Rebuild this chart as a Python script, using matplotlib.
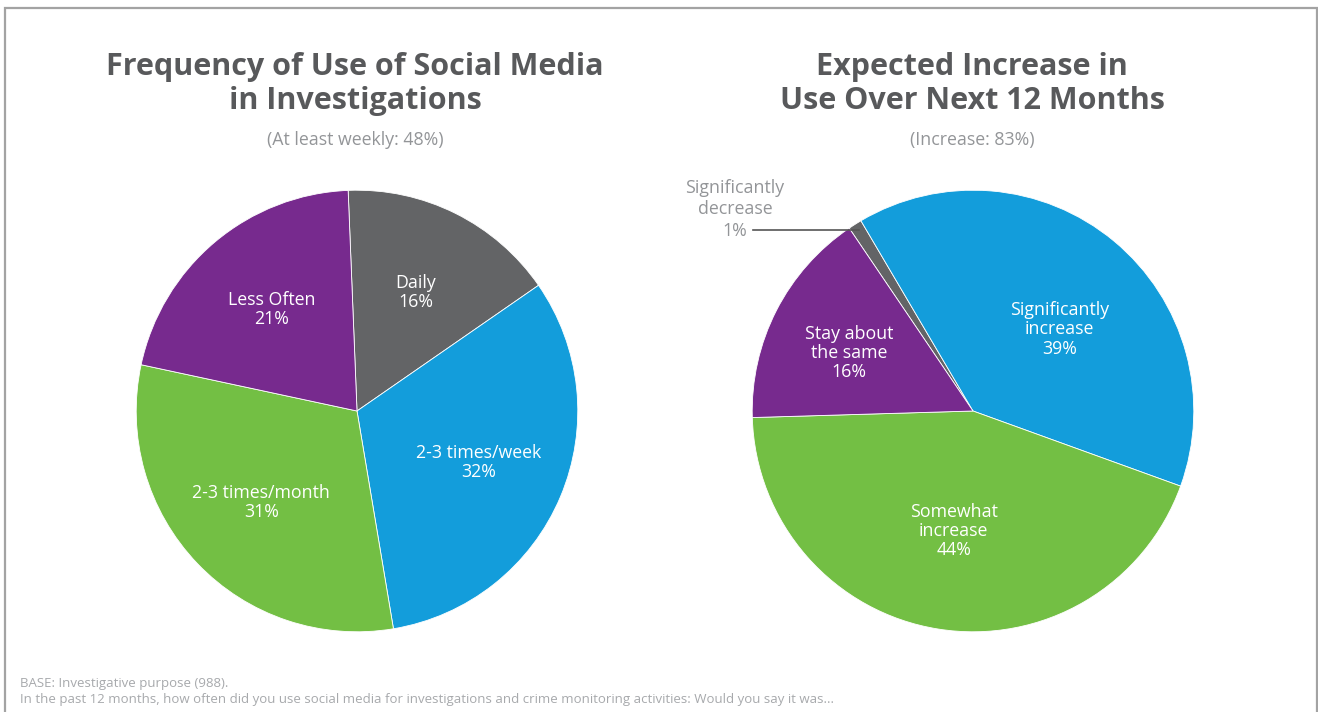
import numpy as np
import matplotlib.pyplot as plt
from matplotlib.patches import Rectangle

plt.rcParams['font.family'] = ['Open Sans', 'DejaVu Sans']

# Frequency of use of social media in investigations
freq_labels = ["Daily", "2-3 times/week", "2-3 times/month", "Less Often"]
freq_values = [16, 32, 31, 21]

# Expected change in use over the next 12 months
change_labels = ["Significantly\ndecrease", "Significantly\nincrease",
                 "Somewhat\nincrease", "Stay about\nthe same"]
change_values = [1, 39, 44, 16]

GRAY = "#636466"
BLUE = "#139ddb"
GREEN = "#73bf44"
PURPLE = "#772a8e"
TITLE = "#58595b"
SUB = "#939598"

W, H = 1318, 712


def px_box(cx, cy, r):
    # axes rectangle (figure fraction) for a pie centred at pixel cx, cy
    return [(cx - r) / W, (H - cy - r) / H, 2 * r / W, 2 * r / H]


def mid_point(w, dist, turn=0.0):
    ang = np.deg2rad((w.theta1 + w.theta2) / 2 + turn)
    return dist * np.cos(ang), dist * np.sin(ang)


def draw_pie(ax, values, colors, start):
    wedges, _ = ax.pie(values, colors=colors, startangle=start, counterclock=False,
                       wedgeprops=dict(edgecolor="white", linewidth=0.6))
    ax.set_xlim(-1.01, 1.01)
    ax.set_ylim(-1.01, 1.01)
    ax.set_aspect("equal")
    ax.axis("off")
    return wedges


fig = plt.figure(figsize=(W / 100, H / 100), dpi=100)

# thin frame round the charts (open at the bottom)
fig.add_artist(Rectangle((5 / W, -0.2), 1312 / W, 1.2 - 8 / H, transform=fig.transFigure,
                         fill=False, edgecolor="#a3a3a3", linewidth=1.6))

# left pie
ax1 = fig.add_axes(px_box(357, 411, 223))
w1 = draw_pie(ax1, freq_values, [GRAY, BLUE, GREEN, PURPLE], 92.3)
for w, lab, v in zip(w1, freq_labels, freq_values):
    x, y = mid_point(w, 0.6)
    ax1.text(x, y, f"{lab}\n{v}%", ha="center", va="center", color="white",
             fontsize=12.8, linespacing=1.1)

# right pie
ax2 = fig.add_axes(px_box(973, 411, 223))
w2 = draw_pie(ax2, change_values, [GRAY, BLUE, GREEN, PURPLE], 124.1)
for w, lab, v, d, t in zip(w2[1:], change_labels[1:], change_values[1:],
                           [0.54, 0.55, 0.62], [-7, 0, 2]):
    x, y = mid_point(w, d, t)
    ax2.text(x, y, f"{lab}\n{v}%", ha="center", va="center", color="white",
             fontsize=12.8, linespacing=1.1)

# the 1% slice is labelled outside with a leader line
px, py = mid_point(w2[0], 0.97)
ax2.plot([-0.995, px], [py, py], color="#555555", linewidth=1.2, clip_on=False)
ax2.annotate(f"{change_labels[0]}\n{change_values[0]}%", xy=(-1.078, py),
             xytext=(0, -7), textcoords="offset points", ha="center", va="bottom",
             color=SUB, fontsize=12.8, linespacing=1.25, annotation_clip=False)

# titles
fig.text(355 / W, 1 - 84 / H, "Frequency of Use of Social Media\nin Investigations",
         ha="center", va="center", fontsize=22, fontweight="bold", color=TITLE,
         linespacing=1.2)
fig.text(972 / W, 1 - 84 / H, "Expected Increase in\nUse Over Next 12 Months",
         ha="center", va="center", fontsize=22, fontweight="bold", color=TITLE,
         linespacing=1.2)
fig.text(355 / W, 1 - 140 / H, "(At least weekly: 48%)", ha="center", va="center",
         fontsize=12.8, color=SUB)
fig.text(972 / W, 1 - 140 / H, "(Increase: 83%)", ha="center", va="center",
         fontsize=12.8, color=SUB)

# footnote
fig.text(20 / W, 1 - 684 / H, "BASE: Investigative purpose (988).", ha="left",
         va="center", fontsize=9.5, color="#a7a9ac")
fig.text(20 / W, 1 - 700 / H,
         "In the past 12 months, how often did you use social media for investigations "
         "and crime monitoring activities: Would you say it was...",
         ha="left", va="center", fontsize=9.5, color="#a7a9ac")

fig.savefig("out.png", dpi=100, facecolor="white")
